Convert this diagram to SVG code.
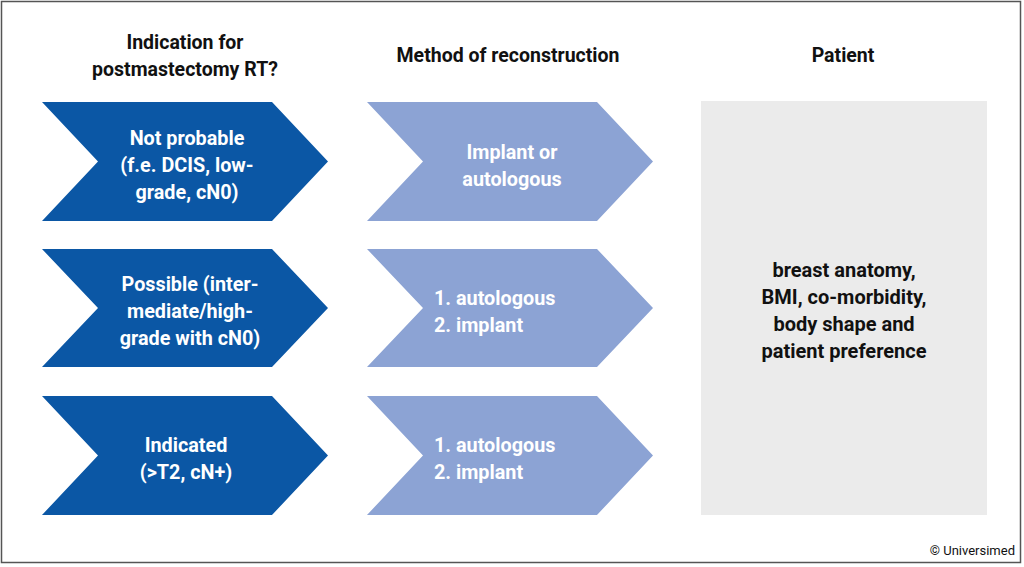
<svg xmlns="http://www.w3.org/2000/svg" width="1024" height="567" viewBox="0 0 1024 567">
<style>
.h{font-family:Roboto,"Liberation Sans",sans-serif;font-weight:bold;font-size:19.5px;fill:#111;text-anchor:middle}
.t{font-family:Roboto,"Liberation Sans",sans-serif;font-weight:bold;font-size:19.8px;fill:#fff;text-anchor:middle}
.tl{font-family:Roboto,"Liberation Sans",sans-serif;font-weight:bold;font-size:19.8px;fill:#fff}
.g{font-family:Roboto,"Liberation Sans",sans-serif;font-weight:bold;font-size:20px;fill:#111;text-anchor:middle}
.dark{fill:#0b57a5}
.light{fill:#8ca3d4}
</style>
<rect x="0" y="0" width="1024" height="567" fill="#fff"/>
<rect x="1.5" y="1.5" width="1019" height="561" fill="none" stroke="#555" stroke-width="1.5"/>
<g id="headers">
<text class="h" x="185" y="49">Indication for</text>
<text class="h" x="185" y="76">postmastectomy RT?</text>
<text class="h" x="508" y="62">Method of reconstruction</text>
<text class="h" x="843" y="62">Patient</text>
</g>
<g id="connectors"></g>
<g id="ind1">
<polygon class="dark" points="42,102 272,102 328,161.5 272,221 42,221 98,161.5"/>
<text class="t" x="187" y="145">Not probable</text>
<text class="t" x="187" y="172">(f.e. DCIS, low-</text>
<text class="t" x="187" y="199">grade, cN0)</text>
</g>
<g id="ind2">
<polygon class="dark" points="42,249 272,249 328,308 272,367 42,367 98,308"/>
<text class="t" x="190" y="291">Possible (inter-</text>
<text class="t" x="190" y="318">mediate/high-</text>
<text class="t" x="190" y="345">grade with cN0)</text>
</g>
<g id="ind3">
<polygon class="dark" points="42,396 272,396 328,455.5 272,515 42,515 98,455.5"/>
<text class="t" x="186" y="452">Indicated</text>
<text class="t" x="186" y="479">(&gt;T2, cN+)</text>
</g>
<g id="rec1">
<polygon class="light" points="367,102 597,102 653,161.5 597,221 367,221 423,161.5"/>
<text class="t" x="512" y="159">Implant or</text>
<text class="t" x="512" y="186">autologous</text>
</g>
<g id="rec2">
<polygon class="light" points="367,249 597,249 653,308 597,367 367,367 423,308"/>
<text class="tl" x="434" y="305">1. autologous</text>
<text class="tl" x="434" y="332">2. implant</text>
</g>
<g id="rec3">
<polygon class="light" points="367,396 597,396 653,455.5 597,515 367,515 423,455.5"/>
<text class="tl" x="434" y="452">1. autologous</text>
<text class="tl" x="434" y="479">2. implant</text>
</g>
<g id="patient">
<rect x="701" y="101" width="286" height="414" fill="#ebebeb"/>
<text class="g" x="844" y="277">breast anatomy,</text>
<text class="g" x="844" y="304">BMI, co-morbidity,</text>
<text class="g" x="844" y="331">body shape and</text>
<text class="g" x="844" y="358">patient preference</text>
</g>
<text x="1015" y="555" font-family="Roboto,'Liberation Sans',sans-serif" font-size="13" fill="#111" text-anchor="end">© Universimed</text>
</svg>
